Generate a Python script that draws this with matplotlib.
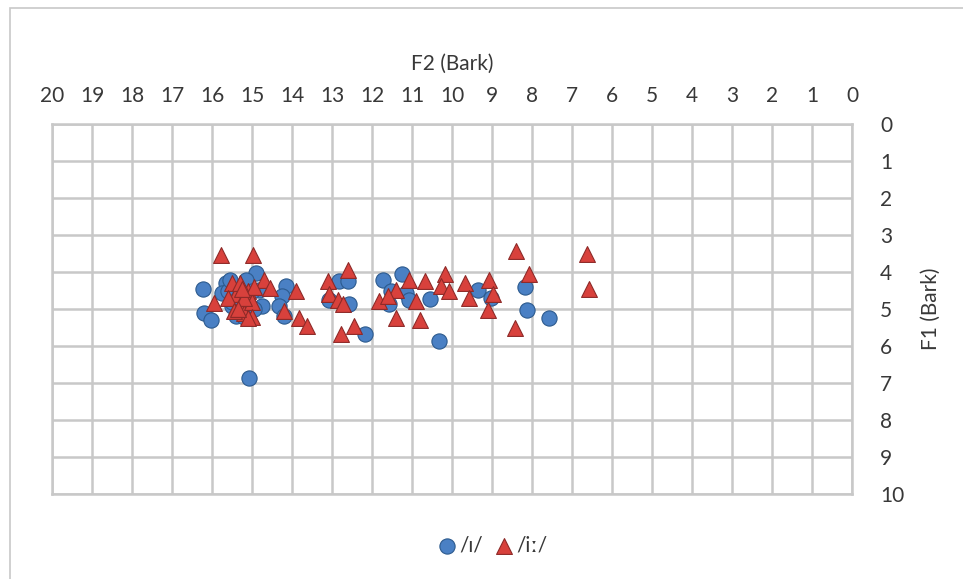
import matplotlib
matplotlib.use("Agg")
import matplotlib.pyplot as plt
from matplotlib.patches import Rectangle

plt.rcParams['font.family'] = ['Lato', 'DejaVu Sans']

# /ɪ/ tokens (F2, F1 in Bark)
short_f2 = [16.23, 16.19, 16.03, 15.65, 15.74, 14.90, 14.82, 14.74, 15.07, 14.15,
            14.24, 14.32, 14.19, 15.49, 15.40, 15.15, 15.60, 15.50, 15.30, 15.00,
            14.95, 15.20, 15.55,
            12.82, 12.61, 13.07, 12.57, 12.19, 11.74, 11.25, 11.57, 11.15, 11.07,
            10.55, 10.32, 9.36, 9.03, 8.17, 8.13, 7.58, 11.53]
short_f1 = [4.45, 5.10, 5.28, 4.29, 4.55, 4.02, 4.47, 4.92, 6.85, 4.38,
            4.65, 4.92, 5.19, 4.92, 5.19, 4.20, 4.50, 4.80, 4.60, 4.50,
            5.00, 5.20, 4.20,
            4.24, 4.24, 4.74, 4.87, 5.68, 4.20, 4.06, 4.87, 4.56, 4.74,
            4.72, 5.86, 4.47, 4.69, 4.39, 5.01, 5.23, 4.51]

# /iː/ tokens
long_f2 = [15.78, 14.97, 15.94, 14.69, 14.56, 13.90, 14.19, 13.82, 13.63,
           15.50, 15.40, 15.30, 15.20, 15.10, 15.00, 15.00, 15.30, 15.60, 15.45,
           14.95, 15.20, 15.10, 15.35, 15.25,
           13.09, 12.61, 13.07, 12.86, 12.73, 12.78, 12.44, 11.82, 11.40, 11.61,
           11.40, 11.07, 10.90, 10.80, 10.67, 10.19, 10.28, 10.07, 9.69, 9.58,
           9.07, 8.99, 9.11, 8.40, 8.08, 8.44, 6.63, 6.57]
long_f1 = [3.52, 3.52, 4.83, 4.20, 4.42, 4.51, 5.05, 5.23, 5.46,
           4.30, 4.60, 4.90, 5.10, 4.50, 4.80, 5.20, 4.30, 4.70, 5.05,
           4.40, 4.70, 5.25, 5.00, 4.45,
           4.24, 3.93, 4.60, 4.74, 4.87, 5.68, 5.46, 4.78, 4.47, 4.65,
           5.23, 4.20, 4.78, 5.28, 4.24, 4.06, 4.38, 4.51, 4.29, 4.69,
           4.20, 4.60, 5.01, 3.43, 4.06, 5.50, 3.50, 4.45]

x_ticks = list(range(0, 21))
y_ticks = list(range(0, 11))

text_col = '#383838'

fig = plt.figure(figsize=(9.63, 5.79), dpi=100)
ax = fig.add_axes([0.054, 0.147, 0.831, 0.638])

# chart-area border
fig.patches.append(Rectangle((0.010, -0.02), 1.2, 1.006, transform=fig.transFigure,
                             fill=False, edgecolor='#c8c8c8', linewidth=1.2))

ax.scatter(short_f2, short_f1, s=120, marker='o', color='#4a80c4',
           edgecolor='#2c5a8e', linewidth=0.8, label='/ɪ/', zorder=3)
ax.scatter(long_f2, long_f1, s=130, marker='^', color='#d8413c',
           edgecolor='#8e2a28', linewidth=0.8, label='/iː/', zorder=4)

ax.set_xlim(20, 0)
ax.set_ylim(10, 0)
ax.set_xticks(x_ticks)
ax.set_yticks(y_ticks)
ax.xaxis.tick_top()
ax.xaxis.set_label_position('top')
ax.yaxis.tick_right()
ax.yaxis.set_label_position('right')
ax.tick_params(length=0, labelsize=15, colors=text_col, pad=13)
ax.tick_params(axis='y', pad=20)
ax.set_xlabel('F2 (Bark)', fontsize=15, color=text_col, labelpad=12)
ax.set_ylabel('F1 (Bark)', fontsize=15, color=text_col, labelpad=12)

ax.grid(True, color='#c8c8c8', linewidth=1.8)
ax.set_axisbelow(True)
for sp in ax.spines.values():
    sp.set_color('#c8c8c8')
    sp.set_linewidth(1.8)

fig.legend(loc='center', bbox_to_anchor=(0.51, 0.058), ncol=2, frameon=False,
           fontsize=15, handletextpad=0.0, columnspacing=0.4, handlelength=1.2,
           labelcolor=text_col)

fig.savefig('out.png', dpi=100)
